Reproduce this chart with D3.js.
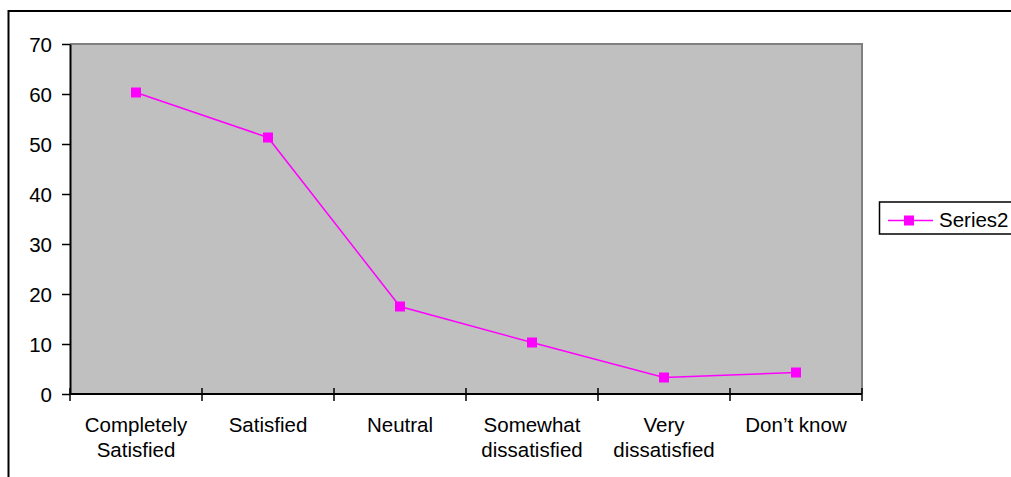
<!DOCTYPE html>
<html>
<head>
<meta charset="utf-8">
<script src="https://cdn.jsdelivr.net/npm/d3@7"></script>
<style>
  body { margin: 0; background: #fff; }
  text { font-family: "Liberation Sans", Arial, sans-serif; fill: #000; }
</style>
</head>
<body>
<div id="chart"></div>
<script>
const width = 1011,
    height = 477,
    margin = { top: 44, right: 149, bottom: 83, left: 70 };

// data
const categories = ["Completely\nSatisfied", "Satisfied", "Neutral", "Somewhat\ndissatisfied", "Very\ndissatisfied", "Don\u2019t know"];
const series2 = [60.3, 51.3, 17.5, 10.3, 3.3, 4.3];
const yTicks = [0, 10, 20, 30, 40, 50, 60, 70];
const seriesName = "Series2";

const fontSize = 20.5;
const magenta = "#FF00FF";

const svg = d3.select("#chart")
    .append("svg")
    .attr("width", width)
    .attr("height", height);

// outer frame
svg.append("rect")
    .attr("x", 8.5)
    .attr("y", 11)
    .attr("width", width + 20)
    .attr("height", height + 20)
    .attr("fill", "none")
    .attr("stroke", "black")
    .attr("stroke-width", 2);

const x = d3.scaleBand()
    .domain(categories)
    .range([margin.left, width - margin.right])
    .padding(0);

const y = d3.scaleLinear()
    .domain([0, 70])
    .range([height - margin.bottom, margin.top]);

const x0 = margin.left, x1 = width - margin.right;
const y0 = y(0), y1 = y(70);

// plot area
svg.append("rect")
    .attr("x", x0)
    .attr("y", y1)
    .attr("width", x1 - x0)
    .attr("height", y0 - y1)
    .attr("fill", "#C0C0C0");

svg.append("path")
    .attr("d", `M${x0},${y1}H${x1}V${y0}`)
    .attr("fill", "none")
    .attr("stroke", "#808080")
    .attr("stroke-width", 2);

// y axis
const yAxis = d3.axisLeft(y)
    .tickValues(yTicks)
    .tickSize(8)
    .tickSizeOuter(0)
    .tickPadding(10);

const yAxisGroup = svg.append("g")
    .attr("transform", `translate(${x0}, 0)`)
    .call(yAxis);

yAxisGroup.select(".domain").attr("stroke", "black").attr("stroke-width", 2);
yAxisGroup.selectAll(".tick line").attr("stroke", "black").attr("stroke-width", 1.5);
yAxisGroup.selectAll(".tick text")
    .attr("font-size", fontSize)
    .attr("font-family", "Liberation Sans, Arial, sans-serif")
    .attr("dy", "0.36em");

// x axis line + ticks at category boundaries
const bounds = categories.map(c => x(c)).concat([x1]);

svg.append("line")
    .attr("x1", x0)
    .attr("x2", x1)
    .attr("y1", y0)
    .attr("y2", y0)
    .attr("stroke", "black")
    .attr("stroke-width", 2);

svg.selectAll("line.xtick")
    .data(bounds)
    .join("line")
    .attr("class", "xtick")
    .attr("x1", d => d)
    .attr("x2", d => d)
    .attr("y1", y0 - 6)
    .attr("y2", y0 + 7)
    .attr("stroke", "black")
    .attr("stroke-width", 1.5);

// category labels
const labels = svg.selectAll("text.xlabel")
    .data(categories)
    .join("text")
    .attr("class", "xlabel")
    .attr("text-anchor", "middle")
    .attr("font-size", fontSize)
    .attr("y", y0 + 38);

labels.selectAll("tspan")
    .data(d => d.split("\n").map(t => ({ t, c: d })))
    .join("tspan")
    .attr("x", d => x(d.c) + x.bandwidth() / 2)
    .attr("dy", (d, i) => i === 0 ? 0 : 25)
    .text(d => d.t);

// line
const line = d3.line()
    .x((d, i) => x(categories[i]) + x.bandwidth() / 2)
    .y(d => y(d));

svg.append("path")
    .datum(series2)
    .attr("d", line)
    .attr("fill", "none")
    .attr("stroke", magenta)
    .attr("stroke-width", 1.5);

svg.selectAll("rect.marker")
    .data(series2)
    .join("rect")
    .attr("class", "marker")
    .attr("x", (d, i) => x(categories[i]) + x.bandwidth() / 2 - 5)
    .attr("y", d => y(d) - 5)
    .attr("width", 10)
    .attr("height", 10)
    .attr("fill", magenta);

// legend (box runs off the right edge, as in the original)
const legend = svg.append("g");
legend.append("rect")
    .attr("x", 879.5)
    .attr("y", 202)
    .attr("width", 150)
    .attr("height", 32)
    .attr("fill", "white")
    .attr("stroke", "black")
    .attr("stroke-width", 1.5);

legend.append("line")
    .attr("x1", 888)
    .attr("x2", 933)
    .attr("y1", 220.5)
    .attr("y2", 220.5)
    .attr("stroke", magenta)
    .attr("stroke-width", 1.5);

legend.append("rect")
    .attr("x", 904)
    .attr("y", 215.5)
    .attr("width", 10)
    .attr("height", 10)
    .attr("fill", magenta);

legend.append("text")
    .attr("x", 939)
    .attr("y", 227)
    .attr("font-size", fontSize)
    .text(seriesName);
</script>
</body>
</html>
